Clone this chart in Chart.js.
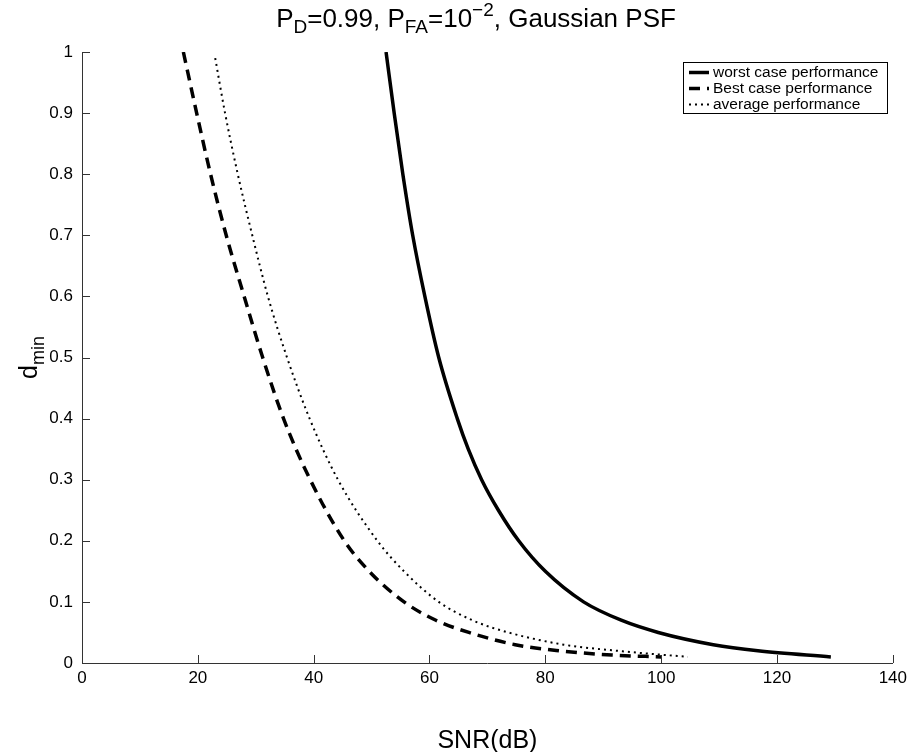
<!DOCTYPE html>
<html>
<head>
<meta charset="utf-8">
<script src="https://cdn.jsdelivr.net/npm/chart.js@4.4.0/dist/chart.umd.min.js"></script>
<style>
html, body { margin: 0; padding: 0; background: #fff; }
#wrap { width: 912px; height: 752px; }
</style>
</head>
<body>
<div id="wrap"><canvas id="chart" width="912" height="752"></canvas></div>
<script>
// values (SNR in dB, d_min)
var worstSnr = [52.5, 53.9, 55.4, 57.1, 59.2, 61.6, 64.8, 66.7, 69, 71.9, 75.4, 80, 86.6, 93.1, 99.5, 109, 116.7, 129.3];
var worstD   = [1.0, 0.9, 0.8, 0.7, 0.6, 0.5, 0.4, 0.35, 0.3, 0.25, 0.2, 0.15, 0.1, 0.07, 0.05, 0.03, 0.02, 0.01];

var bestSnr = [17.5, 19.8, 22.2, 24.9, 28, 31.2, 34.8, 39.4, 45.3, 49.6, 55.6, 61.1, 66.8, 74.8, 82.5, 91.5, 100];
var bestD   = [1.0, 0.9, 0.8, 0.7, 0.6, 0.5, 0.4, 0.3, 0.2, 0.15, 0.1, 0.07, 0.05, 0.03, 0.02, 0.013, 0.01];

var avgSnr = [23, 24.7, 26.9, 29.4, 32.1, 35.4, 39.3, 44.2, 51, 55.6, 61.6, 67.4, 73.6, 83.2, 92.4, 104.6];
var avgD   = [0.99, 0.9, 0.8, 0.7, 0.6, 0.5, 0.4, 0.3, 0.2, 0.15, 0.1, 0.07, 0.05, 0.03, 0.02, 0.01];

var seriesNames = ['worst case performance', 'Best case performance', 'average performance'];
var xTicks = [0, 20, 40, 60, 80, 100, 120, 140];
var yTicks = [0, 0.1, 0.2, 0.3, 0.4, 0.5, 0.6, 0.7, 0.8, 0.9, 1];

var fontName = '"Liberation Sans", Arial, Helvetica, sans-serif';

function toPoints(xs, ys) {
	var pts = [];
	for(var i = 0; i < xs.length; i++) {
		pts.push({x: xs[i], y: ys[i]});
	}
	return pts;
}

// ticks pointing into the axes, like the original
var innerTicks = {
	id: 'innerTicks',
	afterDraw: function(chart) {
		var ctx = chart.ctx;
		var area = chart.chartArea;
		var xs = chart.scales.x;
		var ys = chart.scales.y;
		ctx.save();
		ctx.strokeStyle = '#333';
		ctx.lineWidth = 1;
		ctx.beginPath();
		for(var i = 0; i < xTicks.length; i++) {
			var px = Math.round(xs.getPixelForValue(xTicks[i])) + 0.5;
			ctx.moveTo(px, area.bottom);
			ctx.lineTo(px, area.bottom - 8);
		}
		for(var j = 0; j < yTicks.length; j++) {
			var py = Math.round(ys.getPixelForValue(yTicks[j])) + 0.5;
			ctx.moveTo(area.left, py);
			ctx.lineTo(area.left + 8, py);
		}
		ctx.stroke();
		ctx.restore();
	}
};

// title and y label with sub/superscripts
var richText = {
	id: 'richText',
	afterDraw: function(chart) {
		var ctx = chart.ctx;
		var area = chart.chartArea;
		ctx.save();
		ctx.fillStyle = '#000';
		ctx.textBaseline = 'alphabetic';

		var big = 26, small = 19;
		var parts = [
			['P', big, 0], ['D', small, 6], ['=0.99, P', big, 0], ['FA', small, 6],
			['=10', big, 0], ['\u22122', small, -11], [', Gaussian PSF', big, 0]
		];
		var total = 0;
		for(var i = 0; i < parts.length; i++) {
			ctx.font = parts[i][1] + 'px ' + fontName;
			total += ctx.measureText(parts[i][0]).width;
		}
		var x = 476 - total / 2;
		var base = 27;
		for(var i = 0; i < parts.length; i++) {
			ctx.font = parts[i][1] + 'px ' + fontName;
			ctx.fillText(parts[i][0], x, base + parts[i][2]);
			x += ctx.measureText(parts[i][0]).width;
		}

		// d_min rotated
		ctx.translate(37, (area.top + area.bottom) / 2);
		ctx.rotate(-Math.PI / 2);
		ctx.font = '25px ' + fontName;
		var wd = ctx.measureText('d').width;
		ctx.font = '18px ' + fontName;
		var wm = ctx.measureText('min').width;
		var sx = -(wd + wm) / 2;
		ctx.font = '25px ' + fontName;
		ctx.fillText('d', sx, 0);
		ctx.font = '18px ' + fontName;
		ctx.fillText('min', sx + wd, 7);
		ctx.restore();
	}
};

// boxed legend in the upper right corner
var boxLegend = {
	id: 'boxLegend',
	afterDatasetsDraw: function(chart) {
		var ctx = chart.ctx;
		var left = 683, top = 62, w = 204, h = 51;
		ctx.save();
		ctx.fillStyle = '#fff';
		ctx.fillRect(left, top, w, h);
		ctx.strokeStyle = '#000';
		ctx.lineWidth = 1;
		ctx.strokeRect(left + 0.5, top + 0.5, w, h);
		ctx.font = '15.5px ' + fontName;
		ctx.textBaseline = 'middle';
		for(var i = 0; i < chart.data.datasets.length; i++) {
			var ds = chart.data.datasets[i];
			var y = top + 10.5 + i * 16;
			ctx.strokeStyle = ds.borderColor;
			ctx.lineWidth = ds.borderWidth;
			ctx.setLineDash(ds.borderDash || []);
			ctx.beginPath();
			ctx.moveTo(689, y);
			ctx.lineTo(709, y);
			ctx.stroke();
			ctx.setLineDash([]);
			ctx.fillStyle = '#000';
			ctx.fillText(ds.label, 713, y);
		}
		ctx.restore();
	}
};

const context = document.getElementById('chart').getContext('2d');

const config = {
	type: 'line',
	data: {
		datasets: [
			{
				label: seriesNames[0],
				data: toPoints(worstSnr, worstD),
				borderColor: '#000',
				borderWidth: 3.5,
			},
			{
				label: seriesNames[1],
				data: toPoints(bestSnr, bestD),
				borderColor: '#000',
				borderWidth: 3.5,
				borderDash: [11, 7],
			},
			{
				label: seriesNames[2],
				data: toPoints(avgSnr, avgD),
				borderColor: '#000',
				borderWidth: 2,
				borderDash: [2, 4],
			}
		],
	},
	options: {
		responsive: false,
		devicePixelRatio: 1,
		animation: false,
		elements: {
			point: { radius: 0 },
			line: { cubicInterpolationMode: 'monotone', fill: false },
		},
		layout: {
			padding: { top: 52, right: 17, left: 0, bottom: 0 },
		},
		plugins: {
			legend: { display: false },
			title: { display: false },
			tooltip: { enabled: false },
		},
		scales: {
			x: {
				type: 'linear',
				min: 0,
				max: 140,
				afterFit: function(scale) { scale.height = 89; },
				afterBuildTicks: function(scale) {
					scale.ticks = xTicks.map(function(v) { return {value: v}; });
				},
				grid: { drawOnChartArea: false, drawTicks: false },
				border: { color: '#333', width: 1 },
				ticks: {
					color: '#000',
					padding: 5,
					font: { family: fontName, size: 17 },
					maxRotation: 0,
				},
				title: {
					display: true,
					text: 'SNR(dB)',
					color: '#000',
					font: { family: fontName, size: 25, lineHeight: 1 },
					padding: { top: 0, bottom: -2 },
				},
			},
			y: {
				type: 'linear',
				min: 0,
				max: 1,
				afterFit: function(scale) { scale.width = 82; },
				afterBuildTicks: function(scale) {
					scale.ticks = yTicks.map(function(v) { return {value: v}; });
				},
				grid: { drawOnChartArea: false, drawTicks: false },
				border: { color: '#333', width: 1 },
				ticks: {
					color: '#000',
					padding: 9,
					font: { family: fontName, size: 17 },
					callback: function(v) { return String(Math.round(v * 10) / 10); },
				},
			},
		},
	},
	plugins: [innerTicks, richText, boxLegend],
};

const chart = new Chart(context, config);
</script>
</body>
</html>
